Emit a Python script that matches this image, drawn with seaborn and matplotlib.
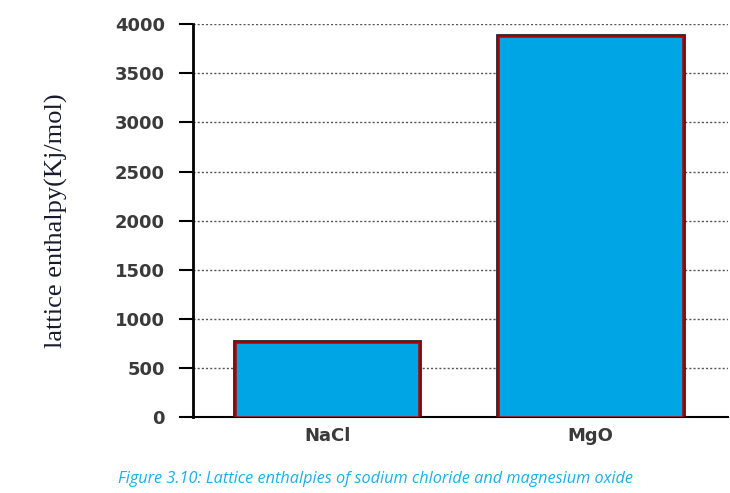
import pandas as pd
import matplotlib.pyplot as plt
import matplotlib.patheffects as pe
import seaborn as sns

# Dados do gráfico
compostos = ["NaCl", "MgO"]
entalpias = [760, 3880]
ticks_y = [0, 500, 1000, 1500, 2000, 2500, 3000, 3500, 4000]

df = pd.DataFrame({"composto": compostos, "entalpia": entalpias})

sns.set_style("white")
fig = plt.figure(figsize=(7.3, 4.93), dpi=100)
ax = fig.add_axes([0.264, 0.154, 0.733, 0.797])

sns.barplot(data=df, x="composto", y="entalpia", color="#00a5e5", saturation=1,
            width=0.70, edgecolor="#b00000", linewidth=1.8, ax=ax, zorder=3)
for barra in ax.patches:
    barra.set_path_effects([pe.Stroke(linewidth=3.4, foreground="#1a1a1a"), pe.Normal()])

ax.set_ylim(0, 4000)
ax.set_xlim(-0.51, 1.52)
ax.set_yticks(ticks_y)
ax.set_yticklabels([str(t) for t in ticks_y], fontweight="bold", fontsize=13,
                   color="#3a3a3a", family="DejaVu Sans")
ax.set_xticks(range(len(compostos)))
ax.set_xticklabels(compostos, fontweight="bold", fontsize=13, color="#3a3a3a",
                   family="DejaVu Sans")
ax.tick_params(axis="y", length=10, width=1.5, pad=10, color="black", direction="out", left=True)
ax.tick_params(axis="x", length=0, pad=7)

ax.yaxis.grid(True, linestyle=(0, (1.5, 1.5)), color="#555555", linewidth=1, zorder=0)
ax.set_axisbelow(True)

sns.despine(ax=ax, top=True, right=True)
ax.spines["left"].set_linewidth(2)
ax.spines["left"].set_color("black")
ax.spines["bottom"].set_linewidth(1.5)
ax.spines["bottom"].set_color("black")

ax.set_xlabel("")
ax.set_ylabel("lattice enthalpy(Kj/mol)", family="Liberation Serif", fontsize=19,
              color="#1a1a2e", labelpad=34)

fig.text(0.514, 0.012, "Figure 3.10: Lattice enthalpies of sodium chloride and magnesium oxide",
         ha="center", va="bottom", fontsize=11.7, style="italic", color="#1ab0e8",
         family="Open Sans")

fig.savefig("out.png", dpi=100)
